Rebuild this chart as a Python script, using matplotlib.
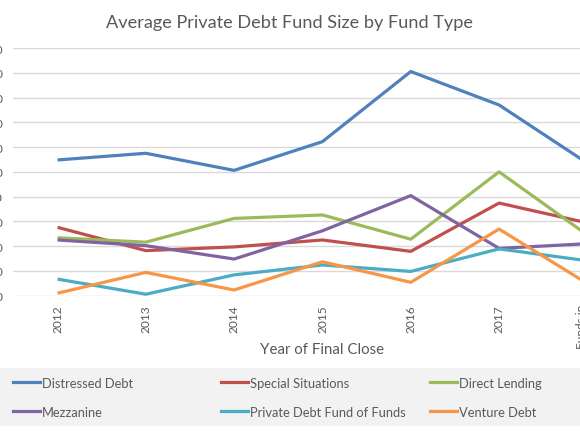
import matplotlib.pyplot as plt
from matplotlib.patches import Rectangle
from matplotlib.lines import Line2D

plt.rcParams['font.family'] = ['Lato', 'DejaVu Sans']

categories = ['2012', '2013', '2014', '2015', '2016', '2017', 'Funds in\nMarket']

distressed = [548, 575, 506, 622, 905, 770, 535]
special = [276, 182, 197, 225, 179, 374, 294]
direct = [234, 216, 312, 326, 228, 500, 245]
mezzanine = [225, 202, 148, 262, 404, 191, 210]
fof = [67, 6, 84, 124, 98, 189, 141]
venture = [10, 94, 23, 137, 54, 269, 49]

series = [
    ('Distressed Debt', distressed, '#4f81bd'),
    ('Special Situations', special, '#c0504d'),
    ('Direct Lending', direct, '#9bbb59'),
    ('Mezzanine', mezzanine, '#8064a2'),
    ('Private Debt Fund of Funds', fof, '#4bacc6'),
    ('Venture Debt', venture, '#f79646'),
]

grey = '#595959'

fig = plt.figure(figsize=(5.8, 4.35), dpi=100)
# axes runs past the right edge, like the cropped original
ax = fig.add_axes([13.35 / 580, 138.3 / 435, 618.2 / 580, 247.7 / 435])

x = range(len(categories))
for name, vals, col in series:
    ax.plot(x, vals, color=col, lw=2.3, label=name, solid_capstyle='butt')

ax.set_xlim(-0.5, 6.5)
ax.set_ylim(0, 1000)
ax.set_yticks(range(0, 1001, 100))
ax.set_yticklabels([f'{v:,}' for v in range(0, 1001, 100)])
ax.set_xticks(list(x))
ax.set_xticklabels(categories, rotation=90, va='top', ha='center', fontsize=8.6,
                   color=grey, linespacing=1.1)
ax.tick_params(axis='y', length=0, pad=7.5, labelsize=8.6, labelcolor=grey)
ax.tick_params(axis='x', length=0, pad=6)
ax.grid(axis='y', color='#d9d9d9', lw=1)
ax.set_axisbelow(True)
for s in ax.spines.values():
    s.set_visible(False)

fig.text(322 / 580, 1 - 350 / 435, 'Year of Final Close', ha='center', va='center',
         fontsize=10.8, color=grey)
fig.text(290 / 580, 1 - 23 / 435, 'Average Private Debt Fund Size by Fund Type',
         ha='center', va='center', fontsize=13.1, color=grey)

# legend band
fig.patches.append(Rectangle((0, 1 - 427 / 435), 1, 58 / 435, transform=fig.transFigure,
                             facecolor='#f2f2f2', edgecolor='none', zorder=0))
col_x = [13, 221, 430]
for i in range(3):
    items = [series[i], series[i + 3]]
    handles = [Line2D([], [], color=c, lw=2.3) for _, _, c in items]
    leg = fig.legend(handles, [n for n, _, _ in items], loc='upper left',
                     bbox_to_anchor=(col_x[i] / 580, 1 - 378 / 435), frameon=False,
                     fontsize=9.3, handlelength=2.1, handletextpad=0.15,
                     labelspacing=1.3, borderaxespad=0, borderpad=0)
    for t in leg.get_texts():
        t.set_color(grey)

fig.savefig('out.png', dpi=100)
